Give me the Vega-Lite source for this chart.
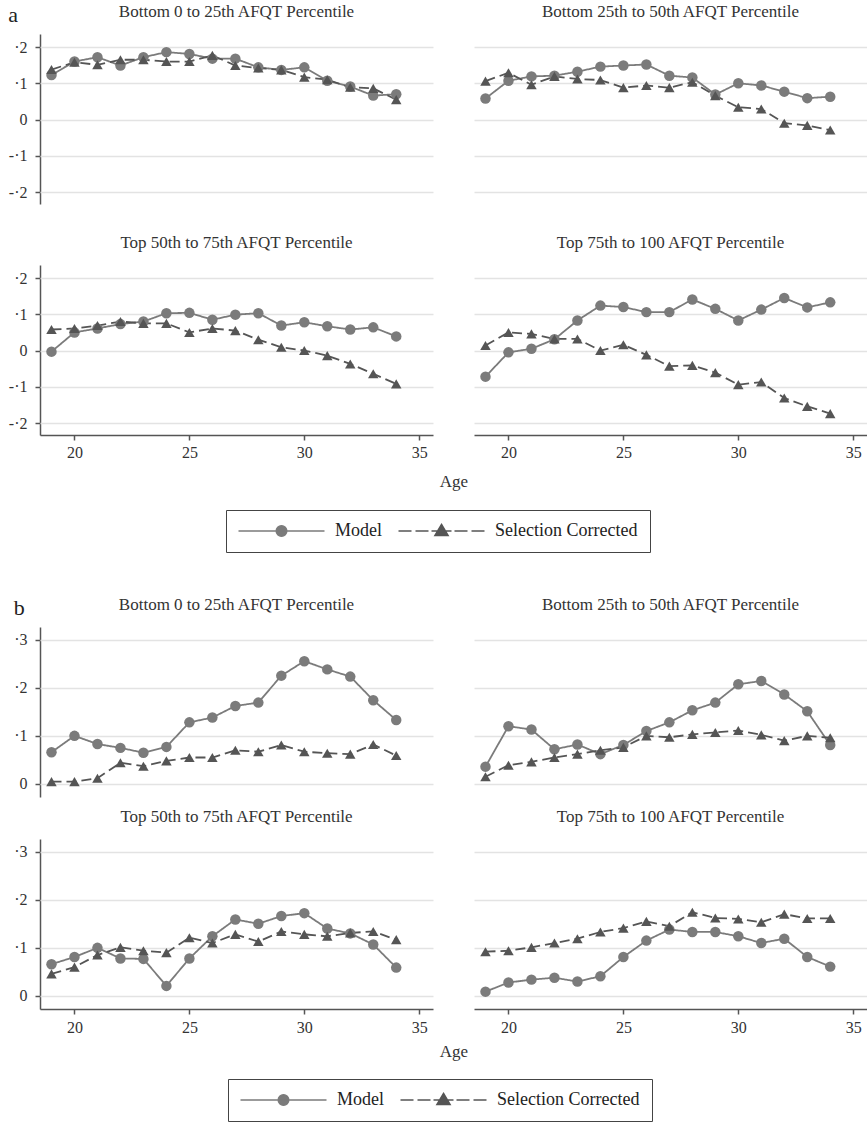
{
  "$schema": "https://vega.github.io/schema/vega-lite/v6.json",
  "background": "white",
  "padding": {"left": 8, "right": 0, "top": 3, "bottom": 3},
  "config": {
    "font": "Liberation Serif",
    "view": {"stroke": null},
    "axis": {"labelFont": "Liberation Serif", "labelFontSize": 16, "labelColor": "#333", "domainColor": "#555", "tickColor": "#555", "domainWidth": 1.5, "tickWidth": 1.5, "tickSize": 5, "gridColor": "#e3e3e3", "gridWidth": 1.3, "titleFont": "Liberation Serif", "titleFontWeight": "normal", "titleFontSize": 17, "titleColor": "#333"},
    "header": {"labelFont": "Liberation Serif", "labelFontSize": 17, "labelColor": "#333", "titleFont": "Liberation Serif", "titleFontSize": 17, "titleFontWeight": "normal", "titleColor": "#333"},
    "legend": {"layout": {"bottom": {"anchor": "middle"}}},
    "title": {"font": "Liberation Serif", "fontWeight": "normal", "fontSize": 22, "color": "#222"}
  },
  "datasets": {
    "a": [
      {"panel": "Bottom 0 to 25th AFQT Percentile", "age": 19, "Model": 0.123, "Selection Corrected": 0.138},
      {"panel": "Bottom 0 to 25th AFQT Percentile", "age": 20, "Model": 0.160, "Selection Corrected": 0.158},
      {"panel": "Bottom 0 to 25th AFQT Percentile", "age": 21, "Model": 0.172, "Selection Corrected": 0.151},
      {"panel": "Bottom 0 to 25th AFQT Percentile", "age": 22, "Model": 0.149, "Selection Corrected": 0.165},
      {"panel": "Bottom 0 to 25th AFQT Percentile", "age": 23, "Model": 0.172, "Selection Corrected": 0.165},
      {"panel": "Bottom 0 to 25th AFQT Percentile", "age": 24, "Model": 0.186, "Selection Corrected": 0.160},
      {"panel": "Bottom 0 to 25th AFQT Percentile", "age": 25, "Model": 0.181, "Selection Corrected": 0.160},
      {"panel": "Bottom 0 to 25th AFQT Percentile", "age": 26, "Model": 0.168, "Selection Corrected": 0.177},
      {"panel": "Bottom 0 to 25th AFQT Percentile", "age": 27, "Model": 0.168, "Selection Corrected": 0.149},
      {"panel": "Bottom 0 to 25th AFQT Percentile", "age": 28, "Model": 0.144, "Selection Corrected": 0.142},
      {"panel": "Bottom 0 to 25th AFQT Percentile", "age": 29, "Model": 0.137, "Selection Corrected": 0.137},
      {"panel": "Bottom 0 to 25th AFQT Percentile", "age": 30, "Model": 0.144, "Selection Corrected": 0.117},
      {"panel": "Bottom 0 to 25th AFQT Percentile", "age": 31, "Model": 0.107, "Selection Corrected": 0.110},
      {"panel": "Bottom 0 to 25th AFQT Percentile", "age": 32, "Model": 0.091, "Selection Corrected": 0.089},
      {"panel": "Bottom 0 to 25th AFQT Percentile", "age": 33, "Model": 0.066, "Selection Corrected": 0.086},
      {"panel": "Bottom 0 to 25th AFQT Percentile", "age": 34, "Model": 0.070, "Selection Corrected": 0.055},
      {"panel": "Bottom 25th to 50th AFQT Percentile", "age": 19, "Model": 0.058, "Selection Corrected": 0.106},
      {"panel": "Bottom 25th to 50th AFQT Percentile", "age": 20, "Model": 0.107, "Selection Corrected": 0.129},
      {"panel": "Bottom 25th to 50th AFQT Percentile", "age": 21, "Model": 0.119, "Selection Corrected": 0.096},
      {"panel": "Bottom 25th to 50th AFQT Percentile", "age": 22, "Model": 0.121, "Selection Corrected": 0.119},
      {"panel": "Bottom 25th to 50th AFQT Percentile", "age": 23, "Model": 0.132, "Selection Corrected": 0.112},
      {"panel": "Bottom 25th to 50th AFQT Percentile", "age": 24, "Model": 0.146, "Selection Corrected": 0.109},
      {"panel": "Bottom 25th to 50th AFQT Percentile", "age": 25, "Model": 0.149, "Selection Corrected": 0.088},
      {"panel": "Bottom 25th to 50th AFQT Percentile", "age": 26, "Model": 0.152, "Selection Corrected": 0.094},
      {"panel": "Bottom 25th to 50th AFQT Percentile", "age": 27, "Model": 0.121, "Selection Corrected": 0.088},
      {"panel": "Bottom 25th to 50th AFQT Percentile", "age": 28, "Model": 0.116, "Selection Corrected": 0.103},
      {"panel": "Bottom 25th to 50th AFQT Percentile", "age": 29, "Model": 0.069, "Selection Corrected": 0.066},
      {"panel": "Bottom 25th to 50th AFQT Percentile", "age": 30, "Model": 0.100, "Selection Corrected": 0.034},
      {"panel": "Bottom 25th to 50th AFQT Percentile", "age": 31, "Model": 0.094, "Selection Corrected": 0.029},
      {"panel": "Bottom 25th to 50th AFQT Percentile", "age": 32, "Model": 0.077, "Selection Corrected": -0.010},
      {"panel": "Bottom 25th to 50th AFQT Percentile", "age": 33, "Model": 0.059, "Selection Corrected": -0.016},
      {"panel": "Bottom 25th to 50th AFQT Percentile", "age": 34, "Model": 0.063, "Selection Corrected": -0.029},
      {"panel": "Top 50th to 75th AFQT Percentile", "age": 19, "Model": -0.003, "Selection Corrected": 0.058},
      {"panel": "Top 50th to 75th AFQT Percentile", "age": 20, "Model": 0.050, "Selection Corrected": 0.061},
      {"panel": "Top 50th to 75th AFQT Percentile", "age": 21, "Model": 0.061, "Selection Corrected": 0.069},
      {"panel": "Top 50th to 75th AFQT Percentile", "age": 22, "Model": 0.073, "Selection Corrected": 0.080},
      {"panel": "Top 50th to 75th AFQT Percentile", "age": 23, "Model": 0.080, "Selection Corrected": 0.075},
      {"panel": "Top 50th to 75th AFQT Percentile", "age": 24, "Model": 0.103, "Selection Corrected": 0.075},
      {"panel": "Top 50th to 75th AFQT Percentile", "age": 25, "Model": 0.104, "Selection Corrected": 0.050},
      {"panel": "Top 50th to 75th AFQT Percentile", "age": 26, "Model": 0.085, "Selection Corrected": 0.061},
      {"panel": "Top 50th to 75th AFQT Percentile", "age": 27, "Model": 0.099, "Selection Corrected": 0.055},
      {"panel": "Top 50th to 75th AFQT Percentile", "age": 28, "Model": 0.103, "Selection Corrected": 0.030},
      {"panel": "Top 50th to 75th AFQT Percentile", "age": 29, "Model": 0.069, "Selection Corrected": 0.009},
      {"panel": "Top 50th to 75th AFQT Percentile", "age": 30, "Model": 0.078, "Selection Corrected": 0.000},
      {"panel": "Top 50th to 75th AFQT Percentile", "age": 31, "Model": 0.067, "Selection Corrected": -0.014},
      {"panel": "Top 50th to 75th AFQT Percentile", "age": 32, "Model": 0.058, "Selection Corrected": -0.037},
      {"panel": "Top 50th to 75th AFQT Percentile", "age": 33, "Model": 0.064, "Selection Corrected": -0.064},
      {"panel": "Top 50th to 75th AFQT Percentile", "age": 34, "Model": 0.039, "Selection Corrected": -0.092},
      {"panel": "Top 75th to 100 AFQT Percentile", "age": 19, "Model": -0.072, "Selection Corrected": 0.014},
      {"panel": "Top 75th to 100 AFQT Percentile", "age": 20, "Model": -0.005, "Selection Corrected": 0.050},
      {"panel": "Top 75th to 100 AFQT Percentile", "age": 21, "Model": 0.005, "Selection Corrected": 0.046},
      {"panel": "Top 75th to 100 AFQT Percentile", "age": 22, "Model": 0.031, "Selection Corrected": 0.032},
      {"panel": "Top 75th to 100 AFQT Percentile", "age": 23, "Model": 0.083, "Selection Corrected": 0.032},
      {"panel": "Top 75th to 100 AFQT Percentile", "age": 24, "Model": 0.124, "Selection Corrected": 0.000},
      {"panel": "Top 75th to 100 AFQT Percentile", "age": 25, "Model": 0.120, "Selection Corrected": 0.016},
      {"panel": "Top 75th to 100 AFQT Percentile", "age": 26, "Model": 0.106, "Selection Corrected": -0.012},
      {"panel": "Top 75th to 100 AFQT Percentile", "age": 27, "Model": 0.106, "Selection Corrected": -0.043},
      {"panel": "Top 75th to 100 AFQT Percentile", "age": 28, "Model": 0.141, "Selection Corrected": -0.041},
      {"panel": "Top 75th to 100 AFQT Percentile", "age": 29, "Model": 0.115, "Selection Corrected": -0.061},
      {"panel": "Top 75th to 100 AFQT Percentile", "age": 30, "Model": 0.083, "Selection Corrected": -0.094},
      {"panel": "Top 75th to 100 AFQT Percentile", "age": 31, "Model": 0.113, "Selection Corrected": -0.087},
      {"panel": "Top 75th to 100 AFQT Percentile", "age": 32, "Model": 0.145, "Selection Corrected": -0.131},
      {"panel": "Top 75th to 100 AFQT Percentile", "age": 33, "Model": 0.119, "Selection Corrected": -0.154},
      {"panel": "Top 75th to 100 AFQT Percentile", "age": 34, "Model": 0.133, "Selection Corrected": -0.174}
    ],
    "b": [
      {"panel": "Bottom 0 to 25th AFQT Percentile", "age": 19, "Model": 0.066, "Selection Corrected": 0.005},
      {"panel": "Bottom 0 to 25th AFQT Percentile", "age": 20, "Model": 0.100, "Selection Corrected": 0.005},
      {"panel": "Bottom 0 to 25th AFQT Percentile", "age": 21, "Model": 0.083, "Selection Corrected": 0.012},
      {"panel": "Bottom 0 to 25th AFQT Percentile", "age": 22, "Model": 0.075, "Selection Corrected": 0.044},
      {"panel": "Bottom 0 to 25th AFQT Percentile", "age": 23, "Model": 0.065, "Selection Corrected": 0.037},
      {"panel": "Bottom 0 to 25th AFQT Percentile", "age": 24, "Model": 0.077, "Selection Corrected": 0.048},
      {"panel": "Bottom 0 to 25th AFQT Percentile", "age": 25, "Model": 0.128, "Selection Corrected": 0.055},
      {"panel": "Bottom 0 to 25th AFQT Percentile", "age": 26, "Model": 0.138, "Selection Corrected": 0.055},
      {"panel": "Bottom 0 to 25th AFQT Percentile", "age": 27, "Model": 0.162, "Selection Corrected": 0.070},
      {"panel": "Bottom 0 to 25th AFQT Percentile", "age": 28, "Model": 0.169, "Selection Corrected": 0.067},
      {"panel": "Bottom 0 to 25th AFQT Percentile", "age": 29, "Model": 0.225, "Selection Corrected": 0.081},
      {"panel": "Bottom 0 to 25th AFQT Percentile", "age": 30, "Model": 0.255, "Selection Corrected": 0.067},
      {"panel": "Bottom 0 to 25th AFQT Percentile", "age": 31, "Model": 0.238, "Selection Corrected": 0.064},
      {"panel": "Bottom 0 to 25th AFQT Percentile", "age": 32, "Model": 0.223, "Selection Corrected": 0.062},
      {"panel": "Bottom 0 to 25th AFQT Percentile", "age": 33, "Model": 0.174, "Selection Corrected": 0.082},
      {"panel": "Bottom 0 to 25th AFQT Percentile", "age": 34, "Model": 0.133, "Selection Corrected": 0.059},
      {"panel": "Bottom 25th to 50th AFQT Percentile", "age": 19, "Model": 0.036, "Selection Corrected": 0.015},
      {"panel": "Bottom 25th to 50th AFQT Percentile", "age": 20, "Model": 0.120, "Selection Corrected": 0.039},
      {"panel": "Bottom 25th to 50th AFQT Percentile", "age": 21, "Model": 0.113, "Selection Corrected": 0.046},
      {"panel": "Bottom 25th to 50th AFQT Percentile", "age": 22, "Model": 0.072, "Selection Corrected": 0.055},
      {"panel": "Bottom 25th to 50th AFQT Percentile", "age": 23, "Model": 0.082, "Selection Corrected": 0.062},
      {"panel": "Bottom 25th to 50th AFQT Percentile", "age": 24, "Model": 0.062, "Selection Corrected": 0.070},
      {"panel": "Bottom 25th to 50th AFQT Percentile", "age": 25, "Model": 0.081, "Selection Corrected": 0.076},
      {"panel": "Bottom 25th to 50th AFQT Percentile", "age": 26, "Model": 0.110, "Selection Corrected": 0.100},
      {"panel": "Bottom 25th to 50th AFQT Percentile", "age": 27, "Model": 0.128, "Selection Corrected": 0.097},
      {"panel": "Bottom 25th to 50th AFQT Percentile", "age": 28, "Model": 0.153, "Selection Corrected": 0.103},
      {"panel": "Bottom 25th to 50th AFQT Percentile", "age": 29, "Model": 0.169, "Selection Corrected": 0.107},
      {"panel": "Bottom 25th to 50th AFQT Percentile", "age": 30, "Model": 0.207, "Selection Corrected": 0.111},
      {"panel": "Bottom 25th to 50th AFQT Percentile", "age": 31, "Model": 0.214, "Selection Corrected": 0.102},
      {"panel": "Bottom 25th to 50th AFQT Percentile", "age": 32, "Model": 0.186, "Selection Corrected": 0.090},
      {"panel": "Bottom 25th to 50th AFQT Percentile", "age": 33, "Model": 0.151, "Selection Corrected": 0.100},
      {"panel": "Bottom 25th to 50th AFQT Percentile", "age": 34, "Model": 0.081, "Selection Corrected": 0.096},
      {"panel": "Top 50th to 75th AFQT Percentile", "age": 19, "Model": 0.066, "Selection Corrected": 0.046},
      {"panel": "Top 50th to 75th AFQT Percentile", "age": 20, "Model": 0.081, "Selection Corrected": 0.060},
      {"panel": "Top 50th to 75th AFQT Percentile", "age": 21, "Model": 0.100, "Selection Corrected": 0.085},
      {"panel": "Top 50th to 75th AFQT Percentile", "age": 22, "Model": 0.078, "Selection Corrected": 0.101},
      {"panel": "Top 50th to 75th AFQT Percentile", "age": 23, "Model": 0.077, "Selection Corrected": 0.094},
      {"panel": "Top 50th to 75th AFQT Percentile", "age": 24, "Model": 0.021, "Selection Corrected": 0.090},
      {"panel": "Top 50th to 75th AFQT Percentile", "age": 25, "Model": 0.078, "Selection Corrected": 0.121},
      {"panel": "Top 50th to 75th AFQT Percentile", "age": 26, "Model": 0.124, "Selection Corrected": 0.110},
      {"panel": "Top 50th to 75th AFQT Percentile", "age": 27, "Model": 0.159, "Selection Corrected": 0.128},
      {"panel": "Top 50th to 75th AFQT Percentile", "age": 28, "Model": 0.150, "Selection Corrected": 0.113},
      {"panel": "Top 50th to 75th AFQT Percentile", "age": 29, "Model": 0.166, "Selection Corrected": 0.134},
      {"panel": "Top 50th to 75th AFQT Percentile", "age": 30, "Model": 0.172, "Selection Corrected": 0.128},
      {"panel": "Top 50th to 75th AFQT Percentile", "age": 31, "Model": 0.140, "Selection Corrected": 0.124},
      {"panel": "Top 50th to 75th AFQT Percentile", "age": 32, "Model": 0.130, "Selection Corrected": 0.131},
      {"panel": "Top 50th to 75th AFQT Percentile", "age": 33, "Model": 0.107, "Selection Corrected": 0.134},
      {"panel": "Top 50th to 75th AFQT Percentile", "age": 34, "Model": 0.059, "Selection Corrected": 0.117},
      {"panel": "Top 75th to 100 AFQT Percentile", "age": 19, "Model": 0.009, "Selection Corrected": 0.092},
      {"panel": "Top 75th to 100 AFQT Percentile", "age": 20, "Model": 0.028, "Selection Corrected": 0.094},
      {"panel": "Top 75th to 100 AFQT Percentile", "age": 21, "Model": 0.034, "Selection Corrected": 0.101},
      {"panel": "Top 75th to 100 AFQT Percentile", "age": 22, "Model": 0.038, "Selection Corrected": 0.110},
      {"panel": "Top 75th to 100 AFQT Percentile", "age": 23, "Model": 0.030, "Selection Corrected": 0.119},
      {"panel": "Top 75th to 100 AFQT Percentile", "age": 24, "Model": 0.041, "Selection Corrected": 0.133},
      {"panel": "Top 75th to 100 AFQT Percentile", "age": 25, "Model": 0.081, "Selection Corrected": 0.141},
      {"panel": "Top 75th to 100 AFQT Percentile", "age": 26, "Model": 0.115, "Selection Corrected": 0.155},
      {"panel": "Top 75th to 100 AFQT Percentile", "age": 27, "Model": 0.138, "Selection Corrected": 0.145},
      {"panel": "Top 75th to 100 AFQT Percentile", "age": 28, "Model": 0.133, "Selection Corrected": 0.174},
      {"panel": "Top 75th to 100 AFQT Percentile", "age": 29, "Model": 0.133, "Selection Corrected": 0.162},
      {"panel": "Top 75th to 100 AFQT Percentile", "age": 30, "Model": 0.124, "Selection Corrected": 0.160},
      {"panel": "Top 75th to 100 AFQT Percentile", "age": 31, "Model": 0.110, "Selection Corrected": 0.153},
      {"panel": "Top 75th to 100 AFQT Percentile", "age": 32, "Model": 0.119, "Selection Corrected": 0.170},
      {"panel": "Top 75th to 100 AFQT Percentile", "age": 33, "Model": 0.081, "Selection Corrected": 0.161},
      {"panel": "Top 75th to 100 AFQT Percentile", "age": 34, "Model": 0.061, "Selection Corrected": 0.161}
    ]
  },
  "vconcat": [
    {
      "title": {"text": "a", "anchor": "start", "offset": -24},
      "data": {"name": "a"},
      "transform": [{"fold": ["Model", "Selection Corrected"], "as": ["series", "value"]}],
      "facet": {"field": "panel", "type": "nominal", "title": "Age", "sort": ["Bottom 0 to 25th AFQT Percentile", "Bottom 25th to 50th AFQT Percentile", "Top 50th to 75th AFQT Percentile", "Top 75th to 100 AFQT Percentile"], "header": {"labelPadding": 13, "titleOrient": "bottom", "labelOrient": "top", "titlePadding": 14}},
      "columns": 2,
      "spacing": {"row": 30, "column": 41},
      "spec": {
        "width": 393, "height": 170,
        "encoding": {
          "x": {"field": "age", "type": "quantitative", "scale": {"domain": [18.5, 35.6], "nice": false, "zero": false}, "axis": {"values": [20, 25, 30, 35], "title": null, "grid": false, "labelPadding": 4}},
          "y": {"field": "value", "type": "quantitative", "scale": {"domain": [-0.233, 0.236], "nice": false, "zero": false}, "axis": {"values": [-0.2, -0.1, 0, 0.1, 0.2], "title": null, "labelPadding": 8, "labelExpr": "datum.value == 0 ? '0' : replace(replace(format(datum.value, '.1f'), '0.', '·'), '−', '-')"}},
          "color": {"field": "series", "type": "nominal", "scale": {"domain": ["Selection Corrected", "Model"], "range": ["#555555", "#7b7b7b"]}, "legend": null}
        },
        "layer": [
          {"mark": {"type": "line", "strokeWidth": 1.8}, "encoding": {"strokeDash": {"field": "series", "type": "nominal", "scale": {"domain": ["Selection Corrected", "Model"], "range": [[10, 5], [1, 0]]}, "legend": null}}},
          {"mark": {"type": "point", "filled": true, "size": 110}, "encoding": {
            "shape": {"field": "series", "type": "nominal", "scale": {"domain": ["Selection Corrected", "Model"], "range": ["triangle-up", "circle"]}, "legend": null},
            "opacity": {"field": "series", "type": "ordinal", "scale": {"domain": ["Model", "Selection Corrected"], "range": [1, 1]},
              "legend": {"title": null, "orient": "bottom", "direction": "horizontal", "labelFont": "Liberation Serif", "labelFontSize": 18, "labelColor": "#222", "strokeColor": "#444", "padding": 12, "columnPadding": 13, "symbolSize": 100, "labelOffset": 79, "offset": 20,
                "symbolType": {"expr": "datum.value === 'Model' ? 'M-1.7,0H15.5M7.95,0A1.05,1.05 0 1,1 5.85,0A1.05,1.05 0 1,1 7.95,0Z' : 'M-1.7,0H0.9M1.7,0H4.3M4.9,0H8.9M9.5,0H12.1M12.9,0H15.5M6.9,-1.3L8.2,0.9L5.6,0.9Z'"},
                "symbolFillColor": {"expr": "datum.value === 'Model' ? '#7b7b7b' : '#555555'"},
                "symbolStrokeColor": {"expr": "datum.value === 'Model' ? '#7b7b7b' : '#555555'"},
                "symbolStrokeWidth": 1.6,
                "symbolOpacity": 1}}}}
        ]
      }
    },
    {
      "title": {"text": "b", "anchor": "start", "offset": -24},
      "data": {"name": "b"},
      "transform": [{"fold": ["Model", "Selection Corrected"], "as": ["series", "value"]}],
      "facet": {"field": "panel", "type": "nominal", "title": "Age", "sort": ["Bottom 0 to 25th AFQT Percentile", "Bottom 25th to 50th AFQT Percentile", "Top 50th to 75th AFQT Percentile", "Top 75th to 100 AFQT Percentile"], "header": {"labelPadding": 13, "titleOrient": "bottom", "labelOrient": "top", "titlePadding": 9}},
      "columns": 2,
      "spacing": {"row": 11, "column": 41},
      "spec": {
        "width": 393, "height": 170,
        "encoding": {
          "x": {"field": "age", "type": "quantitative", "scale": {"domain": [18.5, 35.6], "nice": false, "zero": false}, "axis": {"values": [20, 25, 30, 35], "title": null, "grid": false, "labelPadding": 5}},
          "y": {"field": "value", "type": "quantitative", "scale": {"domain": [-0.027, 0.326], "nice": false, "zero": false}, "axis": {"values": [0, 0.1, 0.2, 0.3], "title": null, "labelPadding": 8, "labelExpr": "datum.value == 0 ? '0' : replace(replace(format(datum.value, '.1f'), '0.', '·'), '−', '-')"}},
          "color": {"field": "series", "type": "nominal", "scale": {"domain": ["Selection Corrected", "Model"], "range": ["#555555", "#7b7b7b"]}, "legend": null}
        },
        "layer": [
          {"mark": {"type": "line", "strokeWidth": 1.8}, "encoding": {"strokeDash": {"field": "series", "type": "nominal", "scale": {"domain": ["Selection Corrected", "Model"], "range": [[10, 5], [1, 0]]}, "legend": null}}},
          {"mark": {"type": "point", "filled": true, "size": 110}, "encoding": {
            "shape": {"field": "series", "type": "nominal", "scale": {"domain": ["Selection Corrected", "Model"], "range": ["triangle-up", "circle"]}, "legend": null},
            "opacity": {"field": "series", "type": "ordinal", "scale": {"domain": ["Model", "Selection Corrected"], "range": [1, 1]},
              "legend": {"title": null, "orient": "bottom", "direction": "horizontal", "labelFont": "Liberation Serif", "labelFontSize": 18, "labelColor": "#222", "strokeColor": "#444", "padding": 12, "columnPadding": 13, "symbolSize": 100, "labelOffset": 79, "offset": 19,
                "symbolType": {"expr": "datum.value === 'Model' ? 'M-1.7,0H15.5M7.95,0A1.05,1.05 0 1,1 5.85,0A1.05,1.05 0 1,1 7.95,0Z' : 'M-1.7,0H0.9M1.7,0H4.3M4.9,0H8.9M9.5,0H12.1M12.9,0H15.5M6.9,-1.3L8.2,0.9L5.6,0.9Z'"},
                "symbolFillColor": {"expr": "datum.value === 'Model' ? '#7b7b7b' : '#555555'"},
                "symbolStrokeColor": {"expr": "datum.value === 'Model' ? '#7b7b7b' : '#555555'"},
                "symbolStrokeWidth": 1.6,
                "symbolOpacity": 1}}}}
        ]
      }
    }
  ],
  "spacing": 43,
  "resolve": {"scale": {"y": "independent", "color": "independent", "shape": "independent", "strokeDash": "independent", "opacity": "independent"}, "legend": {"opacity": "independent"}}
}
